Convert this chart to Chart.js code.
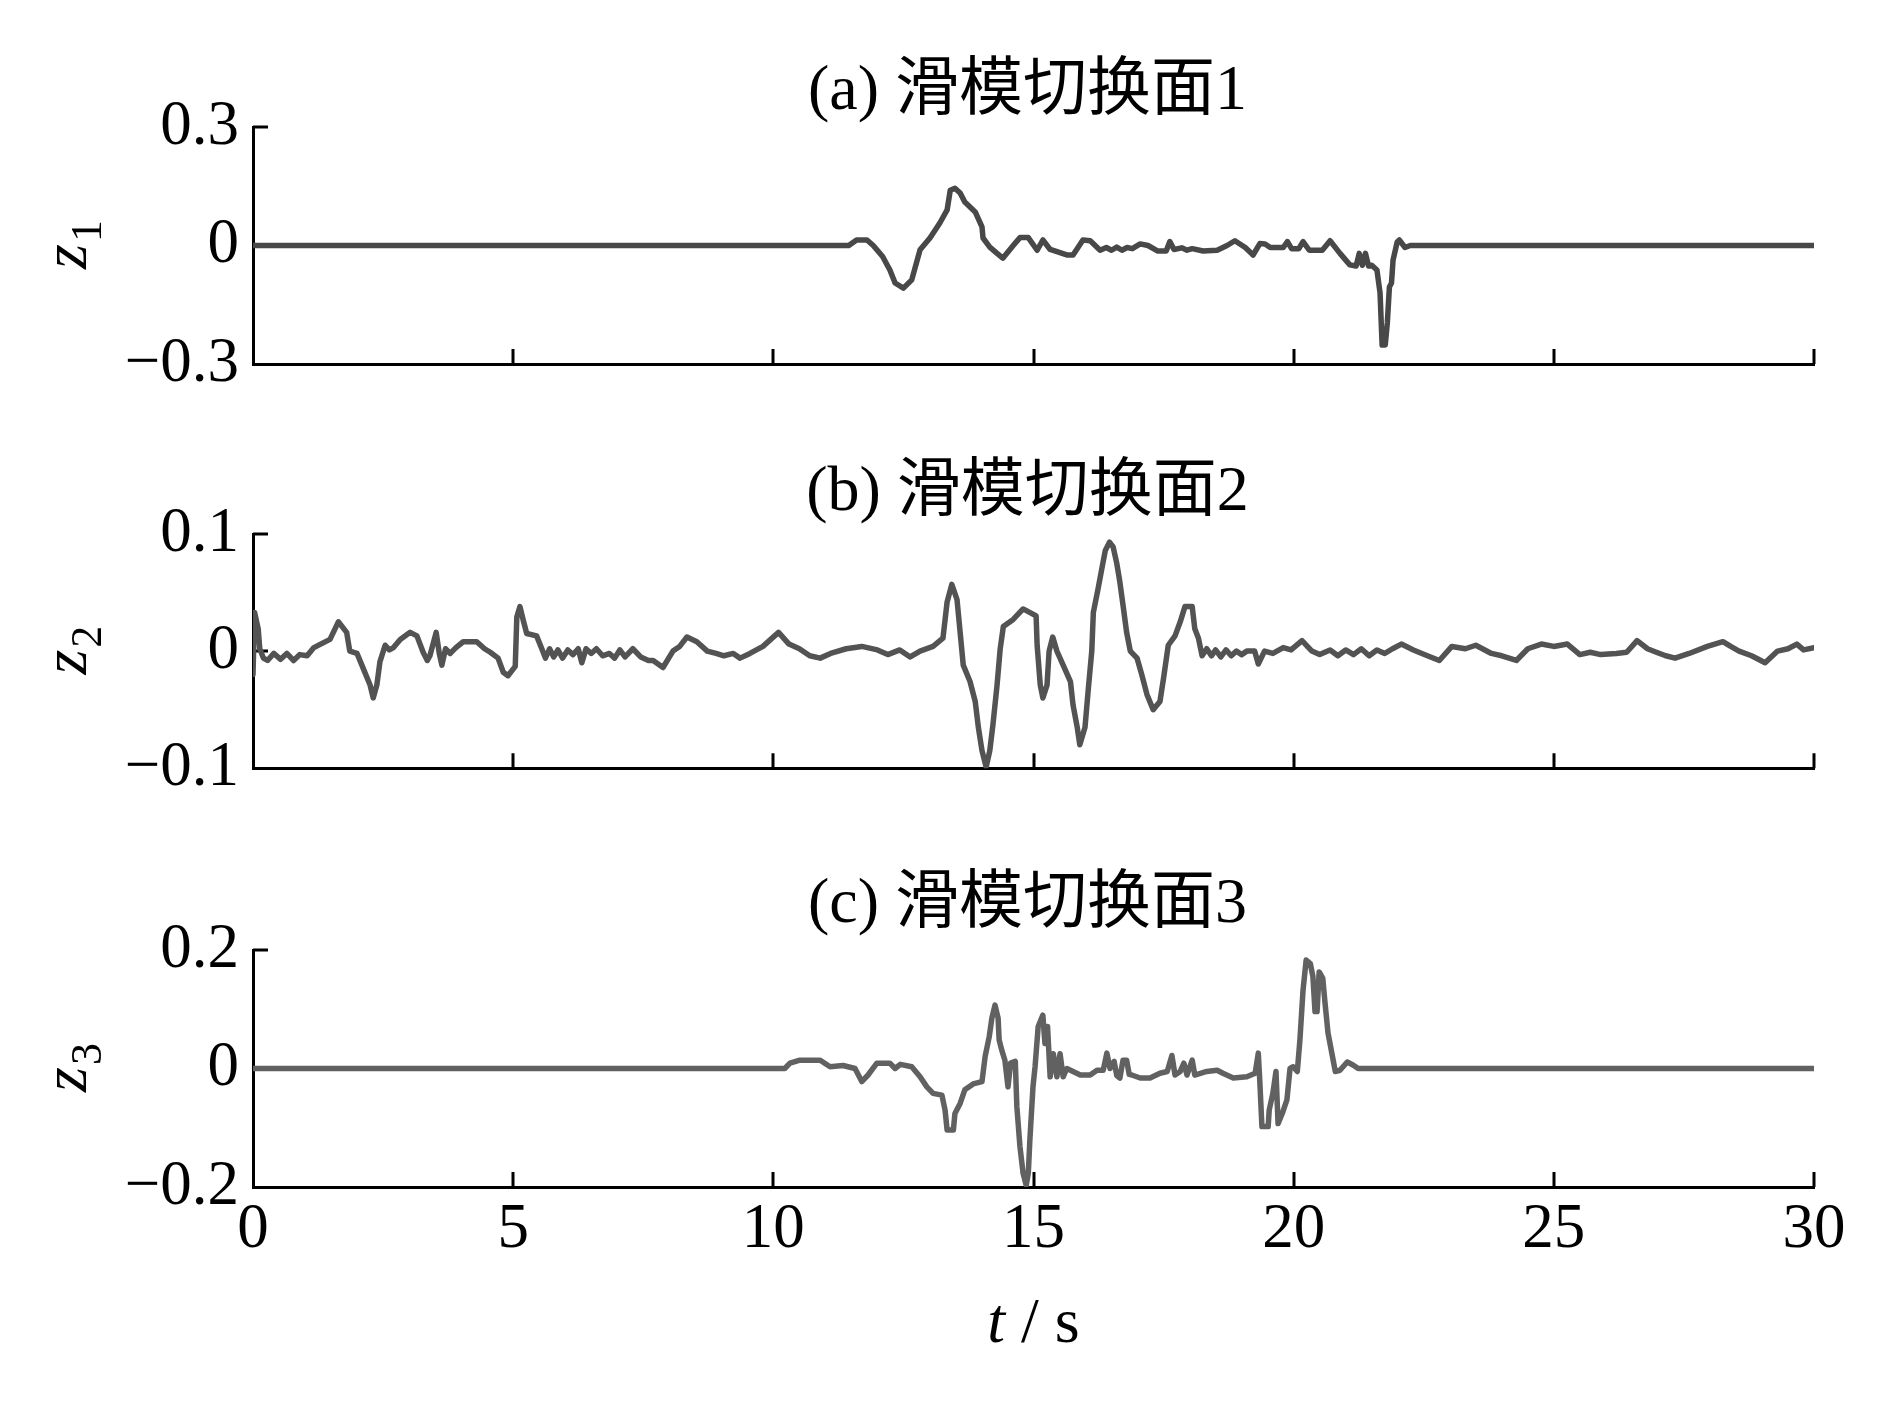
<!DOCTYPE html>
<html>
<head>
<meta charset="utf-8">
<script src="https://cdn.jsdelivr.net/npm/chart.js@4.4.1/dist/chart.umd.min.js"></script>
<style>
  body { margin: 0; background: #fff; width: 1890px; height: 1417px; position: relative; overflow: hidden; }
  canvas { position: absolute; left: 0; }
</style>
</head>
<body>
<canvas id="panelA" width="1890" height="420" style="top:0px"></canvas>
<canvas id="panelB" width="1890" height="400" style="top:420px"></canvas>
<canvas id="panelC" width="1890" height="597" style="top:820px"></canvas>
<script>
// shared axis
const xTicks = [0, 5, 10, 15, 20, 25, 30];
const xLabel = ['t', ' / s'];

// (a) sliding surface 1
const titleA = '(a) 滑模切换面1';
const yTicksA = [-0.3, 0, 0.3];
const tA = [0, 11.45, 11.6, 11.8, 11.92, 12.1, 12.24, 12.34, 12.5, 12.66,
  12.82, 13.01, 13.2, 13.34, 13.4, 13.49, 13.59, 13.68, 13.88, 14.01,
  14.03, 14.16, 14.3, 14.41, 14.61, 14.74, 14.9, 15.07, 15.18, 15.32,
  15.64, 15.76, 15.95, 16.09, 16.28, 16.4, 16.5, 16.6, 16.7, 16.8,
  16.9, 17.05, 17.2, 17.39, 17.55, 17.62, 17.7, 17.85, 17.95, 18.05,
  18.26, 18.53, 18.72, 18.87, 19.07, 19.22, 19.35, 19.45, 19.55, 19.8,
  19.88, 19.96, 20.1, 20.18, 20.3, 20.55, 20.7, 20.89, 21.08, 21.2,
  21.26, 21.32, 21.38, 21.44, 21.5, 21.6, 21.66, 21.7, 21.76, 21.8,
  21.84, 21.88, 21.91, 21.99, 22.03, 22.14, 22.24, 30];
const zA = [0, 0, 0.014, 0.014, 0, -0.028, -0.062, -0.095, -0.108, -0.087,
  -0.011, 0.019, 0.057, 0.09, 0.14, 0.145, 0.133, 0.11, 0.085, 0.047,
  0.019, -0.004, -0.02, -0.032, 0, 0.02, 0.02, -0.012, 0.014, -0.01,
  -0.024, -0.024, 0.014, 0.012, -0.012, -0.005, -0.012, -0.004, -0.012, -0.005,
  -0.008, 0.004, 0, -0.014, -0.014, 0.01, -0.01, -0.006, -0.012, -0.008,
  -0.014, -0.012, 0, 0.012, -0.005, -0.024, 0.005, 0.004, -0.005, -0.005,
  0.01, -0.008, -0.008, 0.01, -0.012, -0.012, 0.012, -0.02, -0.049, -0.052,
  -0.02, -0.05, -0.02, -0.052, -0.05, -0.062, -0.12, -0.252, -0.252, -0.196,
  -0.105, -0.095, -0.037, 0.009, 0.014, -0.005, 0, 0];

// (b) sliding surface 2
const titleB = '(b) 滑模切换面2';
const yTicksB = [-0.1, 0, 0.1];
const tB = [0, 0.03, 0.1, 0.13, 0.2, 0.28, 0.4, 0.53, 0.65, 0.78,
  0.9, 1.04, 1.17, 1.3, 1.48, 1.64, 1.8, 1.86, 2.0, 2.12,
  2.25, 2.31, 2.38, 2.44, 2.54, 2.62, 2.7, 2.83, 3.02, 3.15,
  3.27, 3.35, 3.4, 3.52, 3.58, 3.63, 3.7, 3.79, 3.9, 4.04,
  4.3, 4.45, 4.56, 4.71, 4.81, 4.9, 5.04, 5.07, 5.13, 5.19,
  5.26, 5.45, 5.55, 5.62, 5.7, 5.78, 5.86, 5.95, 6.05, 6.15,
  6.25, 6.32, 6.4, 6.5, 6.6, 6.72, 6.85, 6.95, 7.05, 7.15,
  7.3, 7.45, 7.6, 7.69, 7.88, 8.07, 8.2, 8.34, 8.53, 8.73,
  8.9, 9.05, 9.23, 9.36, 9.55, 9.8, 10.1, 10.3, 10.5, 10.7,
  10.9, 11.1, 11.4, 11.7, 12.0, 12.2, 12.43, 12.63, 12.82, 13.07,
  13.26, 13.34, 13.43, 13.53, 13.59, 13.65, 13.78, 13.88, 13.94, 14.01,
  14.09, 14.16, 14.22, 14.3, 14.36, 14.42, 14.61, 14.8, 14.97, 15.05,
  15.07, 15.13, 15.18, 15.26, 15.3, 15.37, 15.45, 15.57, 15.71, 15.76,
  15.84, 15.89, 15.99, 16.05, 16.12, 16.15, 16.24, 16.32, 16.38, 16.46,
  16.53, 16.6, 16.66, 16.73, 16.79, 16.86, 16.99, 17.08, 17.18, 17.3,
  17.43, 17.5, 17.59, 17.72, 17.82, 17.91, 18.05, 18.1, 18.17, 18.24,
  18.33, 18.42, 18.5, 18.6, 18.7, 18.8, 18.9, 19.0, 19.1, 19.25,
  19.32, 19.44, 19.6, 19.8, 19.95, 20.16, 20.35, 20.5, 20.7, 20.85,
  21.0, 21.15, 21.3, 21.45, 21.6, 21.75, 21.9, 22.07, 22.3, 22.57,
  22.8, 23.04, 23.3, 23.5, 23.8, 24.0, 24.28, 24.5, 24.76, 25.0,
  25.26, 25.5, 25.7, 25.9, 26.2, 26.4, 26.6, 26.8, 26.97, 27.15,
  27.33, 27.6, 27.95, 28.25, 28.4, 28.56, 28.8, 29.06, 29.3, 29.5,
  29.67, 29.8, 30];
const zB = [-0.02, 0.033, 0.019, 0.002, -0.006, -0.008, -0.002, -0.007, -0.002, -0.008,
  -0.003, -0.004, 0.003, 0.006, 0.01, 0.025, 0.016, 0, -0.002, -0.015,
  -0.029, -0.04, -0.029, -0.009, 0.005, 0.001, 0.003, 0.01, 0.016, 0.013,
  -0.001, -0.008, -0.004, 0.016, -0.002, -0.012, 0.002, -0.002, 0.003, 0.008,
  0.008, 0.002, -0.001, -0.006, -0.018, -0.021, -0.013, 0.029, 0.038, 0.027,
  0.015, 0.013, 0.002, -0.006, 0.002, -0.005, 0.001, -0.006, 0.001, -0.003,
  0.002, -0.01, 0.002, -0.002, 0.002, -0.004, -0.002, -0.006, 0.001, -0.005,
  0.002, -0.005, -0.008, -0.008, -0.014, 0, 0.004, 0.012, 0.008, 0,
  -0.002, -0.004, -0.002, -0.006, -0.002, 0.004, 0.016, 0.006, 0.002, -0.004,
  -0.006, -0.002, 0.002, 0.004, 0.001, -0.003, 0.001, -0.005, 0, 0.004,
  0.011, 0.042, 0.057, 0.044, 0.016, -0.012, -0.026, -0.043, -0.065, -0.085,
  -0.099, -0.085, -0.063, -0.029, 0.002, 0.021, 0.027, 0.036, 0.032, 0.03,
  0.005, -0.029, -0.04, -0.029, 0, 0.012, 0, -0.012, -0.026, -0.046,
  -0.065, -0.08, -0.065, -0.034, 0, 0.033, 0.053, 0.072, 0.086, 0.093,
  0.089, 0.075, 0.059, 0.036, 0.016, 0, -0.006, -0.02, -0.037, -0.05,
  -0.043, -0.023, 0.005, 0.013, 0.025, 0.038, 0.038, 0.019, 0.011, -0.004,
  0.002, -0.004, 0.001, -0.005, 0.001, -0.004, 0, -0.003, 0, 0,
  -0.011, 0, -0.002, 0.003, 0.001, 0.009, 0, -0.003, 0.001, -0.004,
  0.001, -0.003, 0.002, -0.004, 0.001, -0.002, 0.002, 0.006, 0.001, -0.004,
  -0.008, 0.004, 0.002, 0.005, -0.002, -0.004, -0.008, 0.002, 0.006, 0.004,
  0.006, -0.003, -0.001, -0.003, -0.002, -0.001, 0.009, 0.002, -0.001, -0.004,
  -0.006, -0.002, 0.004, 0.008, 0.004, 0, -0.004, -0.01, 0, 0.002,
  0.006, 0.001, 0.003];

// (c) sliding surface 3
const titleC = '(c) 滑模切换面3';
const yTicksC = [-0.2, 0, 0.2];
const tC = [0, 10.22, 10.32, 10.51, 10.9, 11.09, 11.34, 11.57, 11.7, 11.82,
  11.99, 12.24, 12.34, 12.44, 12.66, 12.82, 12.95, 13.07, 13.24, 13.3,
  13.34, 13.46, 13.49, 13.59, 13.68, 13.84, 14.01, 14.07, 14.15, 14.2,
  14.26, 14.32, 14.34, 14.39, 14.45, 14.51, 14.56, 14.65, 14.68, 14.74,
  14.8, 14.86, 14.9, 14.93, 14.99, 15.03, 15.09, 15.18, 15.22, 15.27,
  15.32, 15.38, 15.45, 15.51, 15.57, 15.64, 15.76, 15.9, 16.09, 16.22,
  16.34, 16.41, 16.47, 16.55, 16.6, 16.66, 16.72, 16.79, 16.84, 16.89,
  17.05, 17.24, 17.43, 17.57, 17.66, 17.72, 17.82, 17.89, 17.95, 18.05,
  18.1, 18.33, 18.53, 18.64, 18.84, 19.1, 19.26, 19.32, 19.35, 19.39,
  19.51, 19.53, 19.6, 19.66, 19.7, 19.78, 19.87, 19.93, 19.99, 20.07,
  20.12, 20.18, 20.24, 20.32, 20.37, 20.41, 20.45, 20.49, 20.56, 20.6,
  20.66, 20.74, 20.8, 20.89, 21.03, 21.14, 21.24, 30];
const zC = [0, 0, 0.009, 0.014, 0.014, 0.003, 0.005, 0, -0.022, -0.011,
  0.009, 0.009, 0, 0.007, 0.003, -0.014, -0.031, -0.042, -0.045, -0.07,
  -0.104, -0.104, -0.076, -0.059, -0.036, -0.026, -0.022, 0.02, 0.054, 0.085,
  0.107, 0.085, 0.048, 0.031, 0.014, -0.031, 0.009, 0.012, -0.064, -0.132,
  -0.177, -0.197, -0.177, -0.121, -0.031, 0.003, 0.071, 0.09, 0.042, 0.071,
  -0.014, 0.025, -0.014, 0.025, -0.014, 0, -0.005, -0.011, -0.011, -0.003,
  -0.003, 0.026, 0, 0.012, -0.012, -0.016, 0.014, 0.014, -0.01, -0.011,
  -0.016, -0.016, -0.008, -0.005, 0.022, -0.011, -0.005, 0.009, -0.011, 0.014,
  -0.011, -0.005, -0.003, -0.008, -0.016, -0.014, -0.008, 0.026, -0.023, -0.098,
  -0.098, -0.07, -0.042, -0.005, -0.093, -0.076, -0.053, 0, 0.003, -0.005,
  0.048, 0.132, 0.183, 0.177, 0.155, 0.096, 0.096, 0.163, 0.152, 0.113,
  0.06, 0.023, -0.005, -0.003, 0.011, 0.006, 0, 0];

const serif = '"Liberation Serif", "Times New Roman", serif';
const titleFont = '64px "Liberation Serif", "Noto Sans CJK SC", serif';

function fmt(v) {
  if (v === 0) return '0';
  return (v < 0 ? '\u2212' : '') + Math.abs(v);
}

// inward tick marks, panel title, y label and (bottom panel) x label
const framePlugin = {
  id: 'frame',
  beforeDatasetsDraw(chart, args, opts) {
    const { ctx, chartArea: a, scales: { x, y } } = chart;
    ctx.save();
    ctx.strokeStyle = '#000';
    ctx.lineWidth = 3;
    ctx.beginPath();
    x.ticks.forEach(tk => {
      if (tk.value === x.min) return;
      const px = Math.round(x.getPixelForValue(tk.value));
      ctx.moveTo(px, a.bottom);
      ctx.lineTo(px, a.bottom - 15);
    });
    y.ticks.forEach(tk => {
      if (tk.value === y.min) return;
      const py = Math.round(y.getPixelForValue(tk.value));
      ctx.moveTo(a.left, py);
      ctx.lineTo(a.left + 15, py);
    });
    ctx.stroke();
    ctx.restore();
  },
  afterDraw(chart, args, opts) {
    const { ctx, chartArea: a } = chart;
    ctx.save();
    ctx.fillStyle = '#000';

    // title
    ctx.font = titleFont;
    ctx.textAlign = 'center';
    ctx.textBaseline = 'middle';
    ctx.fillText(opts.title, (a.left + a.right) / 2 - 6, a.top - opts.titleGap);

    // y label: z with subscript, rotated
    ctx.translate(72, (a.top + a.bottom) / 2);
    ctx.rotate(-Math.PI / 2);
    ctx.textAlign = 'left';
    ctx.textBaseline = 'alphabetic';
    ctx.font = 'italic 64px ' + serif;
    const zw = ctx.measureText('z').width;
    ctx.font = '44px ' + serif;
    const sw = ctx.measureText(opts.sub).width;
    const x0 = -(zw + sw) / 2;
    ctx.font = 'italic 64px ' + serif;
    ctx.fillText('z', x0, 14);
    ctx.font = '44px ' + serif;
    ctx.fillText(opts.sub, x0 + zw + 2, 29);
    ctx.restore();

    if (opts.showX) {
      ctx.save();
      ctx.fillStyle = '#000';
      ctx.textBaseline = 'alphabetic';
      ctx.textAlign = 'left';
      ctx.font = 'italic 64px ' + serif;
      const w1 = ctx.measureText(xLabel[0]).width;
      ctx.font = '64px ' + serif;
      const w2 = ctx.measureText(xLabel[1]).width;
      const sx = (a.left + a.right) / 2 - (w1 + w2) / 2;
      const by = a.bottom + 155;
      ctx.font = 'italic 64px ' + serif;
      ctx.fillText(xLabel[0], sx, by);
      ctx.font = '64px ' + serif;
      ctx.fillText(xLabel[1], sx + w1, by);
      ctx.restore();
    }
  }
};

function makePanel(id, times, values, yTicks, color, cfg) {
  const points = times.map((t, i) => ({ x: t, y: values[i] }));
  return new Chart(document.getElementById(id), {
    type: 'line',
    data: {
      datasets: [{
        data: points,
        borderColor: color,
        borderWidth: 5.5,
        pointRadius: 0,
        tension: 0,
        fill: false,
        borderJoinStyle: 'round',
        borderCapStyle: 'round'
      }]
    },
    options: {
      responsive: false,
      animation: false,
      devicePixelRatio: 1,
      events: [],
      layout: { padding: { left: 0, right: 76, top: cfg.padTop, bottom: cfg.padBottom } },
      plugins: {
        legend: { display: false },
        tooltip: { enabled: false },
        frame: { title: cfg.title, sub: cfg.sub, titleGap: cfg.titleGap, showX: cfg.showX }
      },
      scales: {
        x: {
          type: 'linear',
          min: 0,
          max: 30,
          afterBuildTicks: s => { s.ticks = xTicks.map(v => ({ value: v })); },
          afterFit: s => { s.height = cfg.showX ? 120 : 0; },
          grid: { display: false, drawTicks: false },
          border: { display: true, color: '#000', width: 3 },
          ticks: {
            display: cfg.showX,
            padding: 6,
            maxRotation: 0,
            color: '#000',
            font: { family: serif, size: 63 },
            callback: v => fmt(v)
          }
        },
        y: {
          min: yTicks[0],
          max: yTicks[yTicks.length - 1],
          afterBuildTicks: s => { s.ticks = yTicks.map(v => ({ value: v })); },
          afterFit: s => { s.width = 253; },
          grid: { display: false, drawTicks: false },
          border: { display: true, color: '#000', width: 3 },
          ticks: {
            padding: 14,
            color: '#000',
            font: { family: serif, size: 63 },
            callback: v => fmt(v)
          }
        }
      }
    },
    plugins: [framePlugin]
  });
}

makePanel('panelA', tA, zA, yTicksA, '#484848',
  { title: titleA, sub: '1', titleGap: 35, padTop: 127, padBottom: 56, showX: false });
makePanel('panelB', tB, zB, yTicksB, '#535353',
  { title: titleB, sub: '2', titleGap: 41, padTop: 114, padBottom: 49, showX: false });
makePanel('panelC', tC, zC, yTicksC, '#616161',
  { title: titleC, sub: '3', titleGap: 45, padTop: 130, padBottom: 110, showX: true });
</script>
</body>
</html>
